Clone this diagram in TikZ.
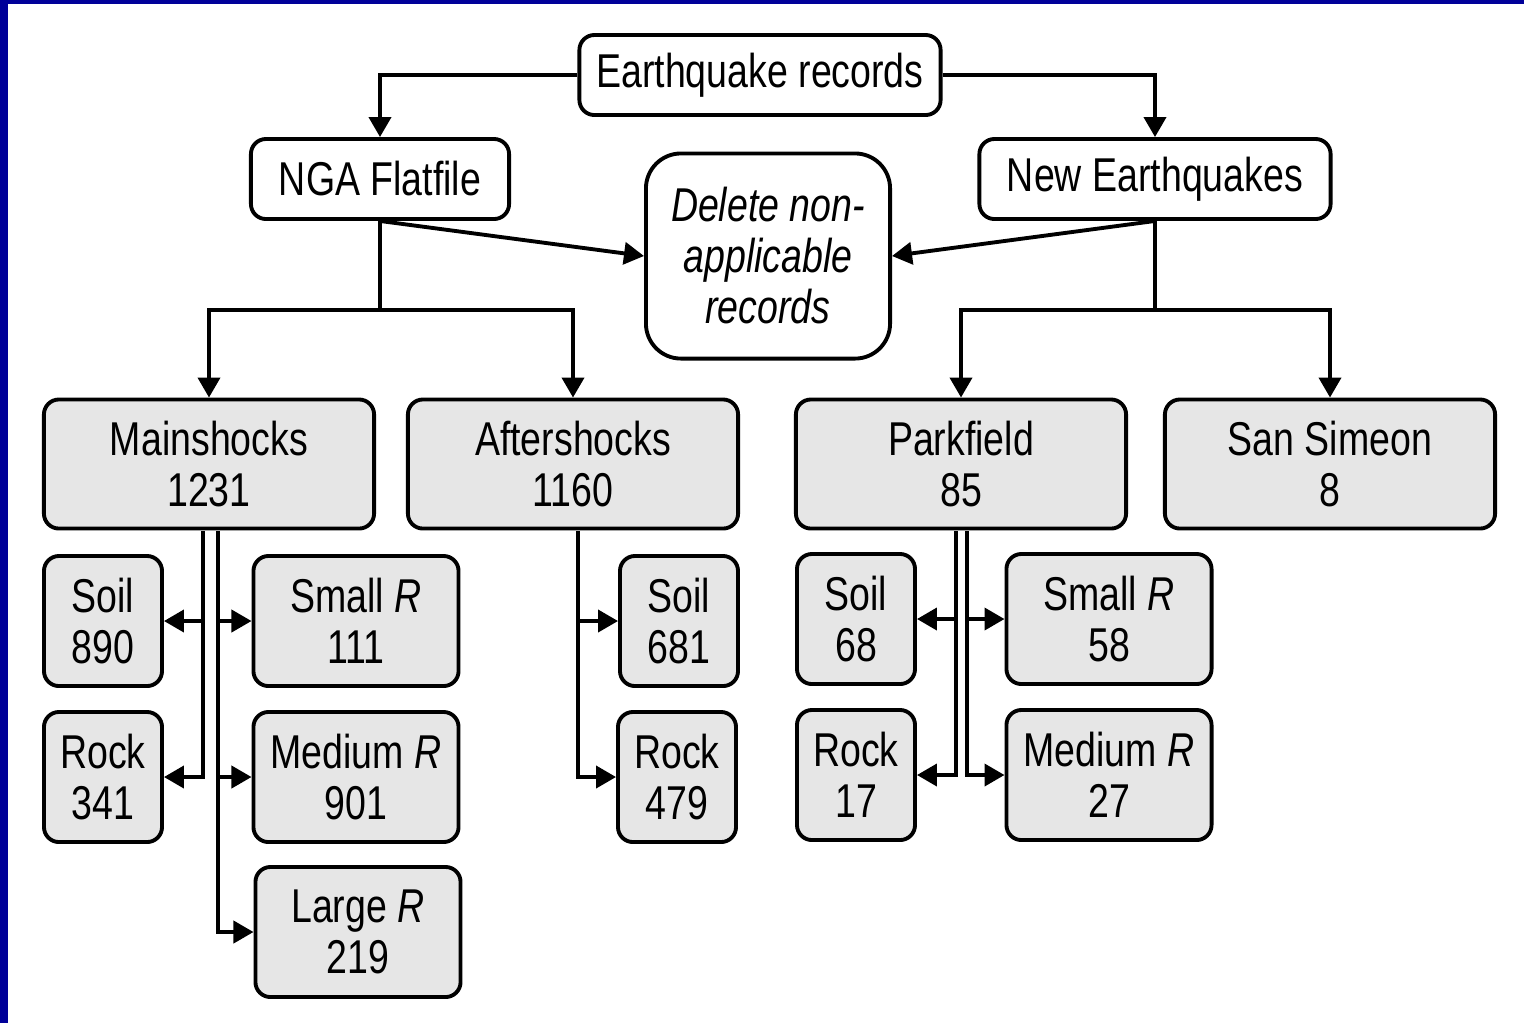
\documentclass[tikz,border=0pt]{standalone}
\usepackage{fontspec}
\setmainfont{Liberation Sans}[FakeStretch=0.79]
\usetikzlibrary{arrows.meta}
\definecolor{edgeblue}{RGB}{0,0,153}
\definecolor{boxgray}{RGB}{230,230,230}

\begin{document}
\begin{tikzpicture}[
            x = 0.01cm, y = -0.01cm, % one unit per pixel
            > = {Triangle[length=0.2cm, width=0.22cm]}, % arrow head style
            line width = 1.1pt
        ]

        \tikzset{
            every node/.style = {font=\fontsize{13.5pt}{14.5pt}\selectfont, align=center, inner sep=0pt},
            rec/.style = {draw = black, line width = 1.1pt, rounded corners = 0.15cm, fill = white},
            grp/.style = {rec, fill = boxgray},
            small/.style = {grp, minimum width = 1.18cm, minimum height = 1.30cm},
            wide/.style = {grp, minimum width = 2.05cm, minimum height = 1.30cm},
            big/.style = {grp, minimum width = 3.30cm, minimum height = 1.29cm},
            link/.style = {->}
        }

        % page and blue edge
        \useasboundingbox (0,0) rectangle (1524,1023);
        \fill[white] (0,0) rectangle (1524,1023);
        \fill[edgeblue] (0,0) rectangle (8,1023);
        \fill[edgeblue] (0,0) rectangle (1524,4);

        % top levels
        \node[rec, minimum width=3.61cm, minimum height=0.80cm] (eq) at (760,75) {Earthquake records};
        \node[rec, minimum width=2.58cm, minimum height=0.80cm] (nga) at (380,179) {NGA Flatfile};
        \node[rec, minimum width=3.51cm, minimum height=0.80cm] (neweq) at (1155,179) {New Earthquakes};
        \node[rec, rounded corners=0.35cm, minimum width=2.44cm, minimum height=2.05cm,
              font=\fontsize{13.5pt}{14.5pt}\selectfont\itshape] (del) at (768,256) {Delete non-\\applicable\\records};

        % groups
        \node[big] (main) at (209,464) {Mainshocks\\1231};
        \node[big] (after) at (573,464) {Aftershocks\\1160};
        \node[big] (park) at (961,464) {Parkfield\\85};
        \node[big] (simeon) at (1330,464) {San Simeon\\8};

        % mainshocks
        \node[small] (soilM) at (103,621) {Soil\\890};
        \node[small] (rockM) at (103,777) {Rock\\341};
        \node[wide] (smallM) at (356,621) {Small \textit{R}\\111};
        \node[wide] (medM) at (356,777) {Medium \textit{R}\\901};
        \node[wide] (largeM) at (358,932) {Large \textit{R}\\219};

        % aftershocks
        \node[small] (soilA) at (679,621) {Soil\\681};
        \node[small] (rockA) at (677,777) {Rock\\479};

        % parkfield
        \node[small] (soilP) at (856,619) {Soil\\68};
        \node[small] (rockP) at (856,775) {Rock\\17};
        \node[wide] (smallP) at (1109,619) {Small \textit{R}\\58};
        \node[wide] (medP) at (1109,775) {Medium \textit{R}\\27};

        % joints
        \coordinate (ngaJ) at (380,310);
        \coordinate (newJ) at (1155,310);
        \coordinate (mL) at (203,531);
        \coordinate (mR) at (218,531);
        \coordinate (aC) at (578,531);
        \coordinate (pL) at (956,531);
        \coordinate (pR) at (967,531);

        \draw[link] (eq.west) -| (nga.north);
        \draw[link] (eq.east) -| (neweq.north);
        \draw[link] (nga.south) -- (del.west);
        \draw[link] (neweq.south) -- (del.east);

        \draw (nga.south) -- (ngaJ);
        \draw[link] (ngaJ) -| (main.north);
        \draw[link] (ngaJ) -| (after.north);
        \draw (neweq.south) -- (newJ);
        \draw[link] (newJ) -| (park.north);
        \draw[link] (newJ) -| (simeon.north);

        \draw[link] (mL) |- (rockM.east);
        \draw[link] (mL |- soilM.east) -- (soilM.east);
        \draw[link] (mR) |- (largeM.west);
        \draw[link] (mR |- smallM.west) -- (smallM.west);
        \draw[link] (mR |- medM.west) -- (medM.west);

        \draw[link] (aC) |- (rockA.west);
        \draw[link] (aC |- soilA.west) -- (soilA.west);

        \draw[link] (pL) |- (rockP.east);
        \draw[link] (pL |- soilP.east) -- (soilP.east);
        \draw[link] (pR) |- (medP.west);
        \draw[link] (pR |- smallP.west) -- (smallP.west);
    \end{tikzpicture}
\end{document}
